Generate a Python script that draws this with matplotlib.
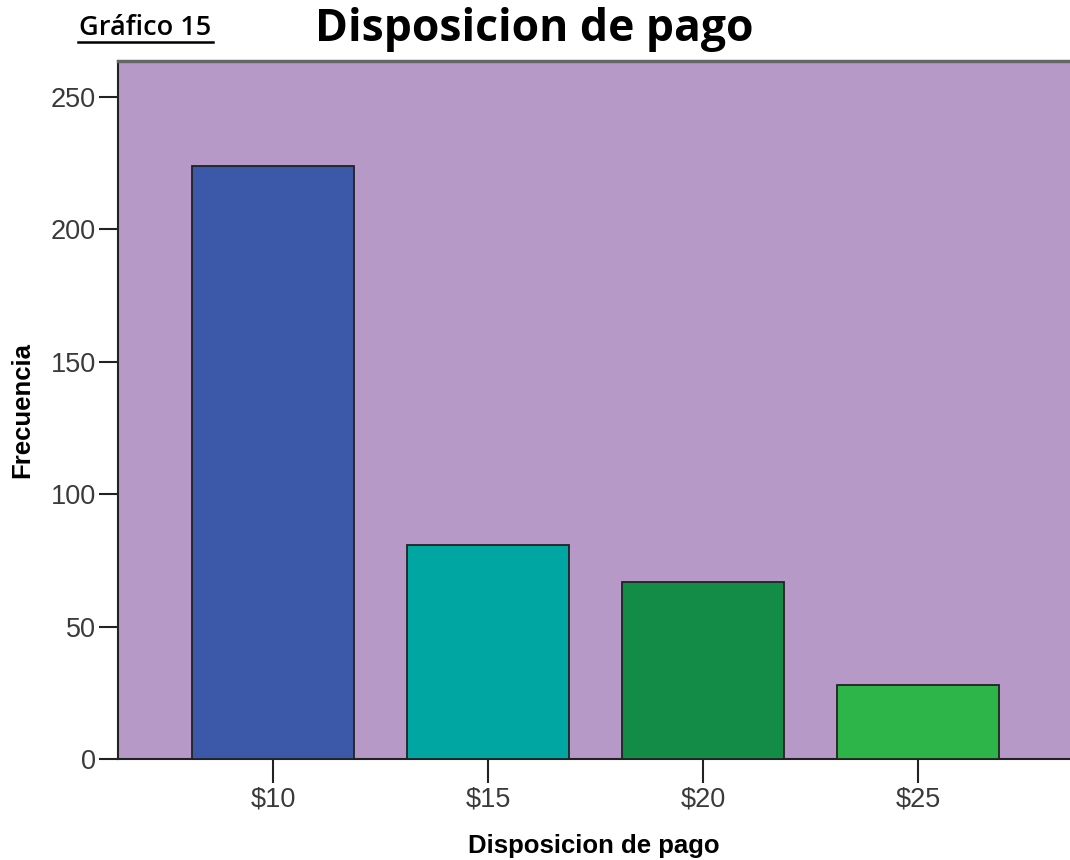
import matplotlib
matplotlib.use("Agg")
import matplotlib.pyplot as plt

# Datos del gráfico
categorias = ["$10", "$15", "$20", "$25"]
frecuencias = [224, 81, 67, 28]
colores = ["#3C58A8", "#00A6A2", "#138C47", "#2EB54A"]

fig = plt.figure(figsize=(10.7, 8.6), dpi=100)
ax = fig.add_axes([0.1103, 0.1174, 0.8897, 0.8116])
ax.set_facecolor("#B799C8")

pos = list(range(len(categorias)))
ax.bar(pos, frecuencias, width=0.753, color=colores, edgecolor="#222222", linewidth=1.3, zorder=3)

ax.set_xlim(-0.721, 3.707)
ax.set_ylim(0, 263.6)
ax.set_xticks(pos)
ax.set_xticklabels(categorias)
ax.set_yticks([0, 50, 100, 150, 200, 250])

for lbl in ax.get_xticklabels() + ax.get_yticklabels():
    lbl.set_family("Liberation Sans")
    lbl.set_fontsize(19.5)
    lbl.set_color("#3a3a3a")

ax.tick_params(axis="y", length=14, width=1.5, color="#222222", pad=2)
ax.tick_params(axis="x", length=17, width=1.5, color="#222222", pad=3)

ax.spines["right"].set_visible(False)
ax.spines["top"].set_color("#666666")
ax.spines["top"].set_linewidth(2.5)
ax.spines["left"].set_color("#222222")
ax.spines["left"].set_linewidth(1.5)
ax.spines["bottom"].set_color("#222222")
ax.spines["bottom"].set_linewidth(1.5)

ax.set_xlabel("Disposicion de pago", family="Liberation Sans", fontweight="bold", fontsize=18.5, labelpad=15)
ax.set_ylabel("Frecuencia", family="Liberation Sans", fontweight="bold", fontsize=18.5, labelpad=12)

fig.text(0.499, 0.966, "Disposicion de pago", family="Open Sans", fontweight="bold",
         fontsize=32, ha="center", va="center")
fig.text(0.136, 0.967, "Gráfico 15", family="Open Sans", fontweight="semibold",
         fontsize=19.5, ha="center", va="center")
fig.add_artist(plt.Line2D([0.073, 0.199], [0.951, 0.951], color="black", linewidth=1.8))

fig.savefig("out.png", dpi=100)
